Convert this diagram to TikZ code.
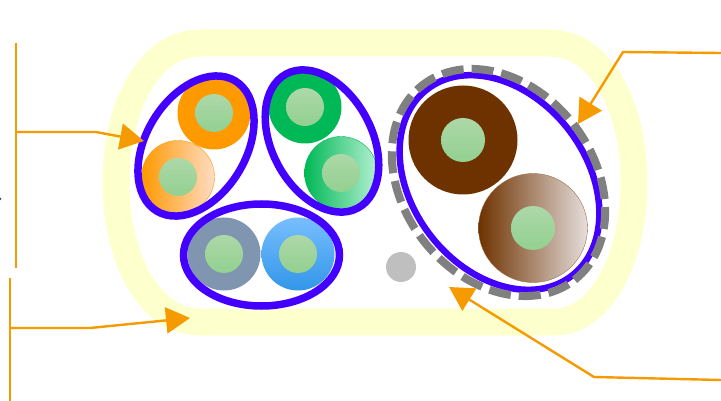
\documentclass[tikz,border=0pt]{standalone}
\usetikzlibrary{arrows.meta,shapes.geometric}
\definecolor{leader}{HTML}{F59A00}
\definecolor{jacket}{HTML}{FDFFCC}
\definecolor{bundle}{HTML}{4400FF}
\definecolor{foilgray}{HTML}{808080}
\definecolor{coretop}{HTML}{ADD8A8}
\definecolor{corebot}{HTML}{92D090}
\definecolor{orangeDark}{HTML}{FF9900}
\definecolor{orangePale}{HTML}{FFDCC4}
\definecolor{greenDark}{HTML}{00B856}
\definecolor{greenMid}{HTML}{00D88C}
\definecolor{greenPale}{HTML}{B4F0D2}
\definecolor{greyBlue}{HTML}{8096B0}
\definecolor{blueTop}{HTML}{78BEFF}
\definecolor{blueBot}{HTML}{3296E8}
\definecolor{brownDark}{HTML}{6E3200}
\definecolor{brownMid}{HTML}{D4C2BC}
\definecolor{brownPale}{HTML}{E6DEDC}
\tikzset{
  core/.style={circle,inner sep=0pt,minimum size=38pt,top color=coretop,bottom color=corebot},
  wire/.style={circle,inner sep=0pt,minimum size=73pt},
  fatwire/.style={circle,inner sep=0pt,minimum size=109pt},
  group/.style={ellipse,draw=bundle,line width=7.5pt,inner sep=0pt},
  leadline/.style={draw=leader,line width=2.4pt},
  pointer/.style={leadline,-{Triangle[length=24pt,width=26pt]}}
}
\begin{document}
\begin{tikzpicture}[x=1pt,y=-1pt]
  \useasboundingbox (0,0) rectangle (721,401);

  % outer jacket
  \draw[jacket,line width=27pt] (200,43) -- (550,43)
    .. controls (600,43) and (634,105) .. (634,182)
    .. controls (634,260) and (600,322) .. (555,322)
    -- (200,322)
    .. controls (150,322) and (116,260) .. (116,182)
    .. controls (116,105) and (150,43) .. cycle;

  % orange pair
  \node[wire,fill=orangeDark] (orangeA) at (214,113) {};
  \node[wire,draw=leader,thin,left color=orangeDark,middle color=orangePale!80!orangeDark,right color=orangePale] (orangeB) at (178,177) {};
  % green pair
  \node[wire,fill=greenDark] (greenA) at (305,107) {};
  \node[wire,draw=greenDark,thin,left color=greenDark,middle color=greenMid,right color=greenPale] (greenB) at (341,173) {};
  % blue pair
  \node[wire,fill=greyBlue] (blueA) at (224,254) {};
  \node[wire,top color=blueTop,bottom color=blueBot] (blueB) at (298,254) {};
  % brown pair
  \node[fatwire,fill=brownDark] (brownA) at (463,140) {};
  \node[fatwire,draw=brownDark!70!white,thin,left color=brownDark,middle color=brownMid,right color=brownPale] (brownB) at (533,228) {};

  % copper cores
  \foreach \w in {orangeA,orangeB,greenA,greenB,blueA,blueB}
    \node[core] (core\w) at (\w) {};
  \foreach \w in {brownA,brownB}
    \node[core,minimum size=44pt] (core\w) at (\w) {};

  % drain wire
  \node[circle,inner sep=0pt,minimum size=30pt,fill=black!25] (drain) at (401,267) {};

  % pair wraps
  \node[group,minimum width=152pt,minimum height=100pt,rotate=59] (wrapOrange) at (196,146) {};
  \node[group,minimum width=152pt,minimum height=100pt,rotate=-62] (wrapGreen) at (322,141) {};
  \node[group,minimum width=156pt,minimum height=102pt] (wrapBlue) at (261.5,255) {};
  \node[group,line width=6.5pt,minimum width=236pt,minimum height=174pt,rotate=-52] (wrapBrown) at (499.5,182.5) {};
  % foil
  \node[ellipse,draw=foilgray,line width=8pt,inner sep=0pt,dash pattern=on 22pt off 8pt,minimum width=247pt,minimum height=190pt,rotate=-52] (foil) at (498.5,182.5) {};

  % left brackets
  \coordinate (upperTop) at (16,43);
  \coordinate (upperBot) at (16,268);
  \coordinate (upperJoin) at (16,132);
  \coordinate (upperBend) at (96,132);
  \coordinate (upperTip) at (144,141);
  \draw[leadline] (upperTop) -- (upperBot);
  \draw[pointer] (upperJoin) -- (upperBend) -- (upperTip);

  \coordinate (lowerTop) at (10,278);
  \coordinate (lowerBot) at (10,401);
  \coordinate (lowerJoin) at (10,328);
  \coordinate (lowerBend) at (90,328);
  \coordinate (lowerTip) at (190,318);
  \draw[leadline] (lowerTop) -- (lowerBot);
  \draw[pointer] (lowerJoin) -- (lowerBend) -- (lowerTip);

  % right leaders
  \coordinate (foilStart) at (721,53);
  \coordinate (foilBend) at (623,52);
  \coordinate (foilTip) at (578,124);
  \draw[pointer] (foilStart) -- (foilBend) -- (foilTip);

  \coordinate (wrapStart) at (721,380);
  \coordinate (wrapBend) at (594,377);
  \coordinate (wrapTip) at (449,287);
  \draw[pointer] (wrapStart) -- (wrapBend) -- (wrapTip);

  % speck at the left edge
  \fill[black!70] (0,199) circle (1.5);

\end{tikzpicture}
\end{document}
